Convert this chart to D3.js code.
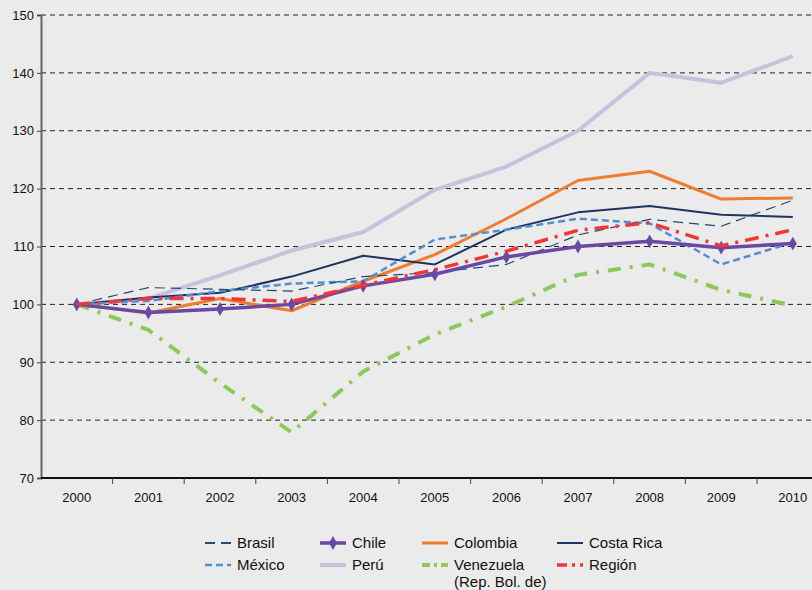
<!DOCTYPE html>
<html>
<head>
<meta charset="utf-8">
<script src="https://cdn.jsdelivr.net/npm/d3@7"></script>
<style>
  html, body { margin: 0; padding: 0; background: #ebebeb; }
  svg { display: block; font-family: "Liberation Sans", Arial, sans-serif; }
</style>
</head>
<body>
<div class="chart"></div>
<script>
// Years on the category axis
const years = ["2000", "2001", "2002", "2003", "2004", "2005", "2006", "2007", "2008", "2009", "2010"];
const yTicks = [70, 80, 90, 100, 110, 120, 130, 140, 150];

// Index values (2000 = 100)
const brasil     = [100, 102.9, 102.6, 102.3, 104.8, 105.5, 106.9, 112.0, 114.7, 113.5, 118.0];
const chile      = [100, 98.6, 99.2, 100.0, 103.2, 105.2, 108.2, 110.0, 110.9, 109.8, 110.5];
const colombia   = [100, 98.5, 101.0, 98.9, 104.0, 108.6, 114.8, 121.4, 123.0, 118.2, 118.4];
const costaRica  = [100, 101.2, 102.0, 104.8, 108.4, 106.9, 112.9, 115.9, 117.0, 115.5, 115.1];
const mexico     = [100, 100.6, 102.3, 103.6, 104.0, 111.2, 112.9, 114.8, 114.0, 106.9, 110.7];
const peru       = [100, 101.0, 105.0, 109.3, 112.5, 119.8, 123.8, 130.0, 140.0, 138.3, 142.9];
const venezuela  = [100, 95.6, 86.4, 77.9, 88.4, 94.8, 99.6, 105.1, 106.9, 102.5, 99.8];
const region     = [100, 101.0, 101.0, 100.5, 103.3, 106.0, 109.2, 112.8, 114.1, 110.1, 112.9];

const series = [
  { name: "Perú", values: peru, color: "#c8c0dd", width: 4, dash: null },
  { name: "Venezuela", values: venezuela, color: "#8cc95a", width: 4, dash: "13,9,3,9" },
  { name: "Colombia", values: colombia, color: "#ee7d2e", width: 3, dash: null },
  { name: "Costa Rica", values: costaRica, color: "#1f3460", width: 2, dash: null },
  { name: "México", values: mexico, color: "#4f8fd2", width: 2.5, dash: "7,4" },
  { name: "Brasil", values: brasil, color: "#1f4b75", width: 1.2, dash: "10,6" },
  { name: "Chile", values: chile, color: "#6a48a3", width: 3.5, dash: null, marker: true },
  { name: "Región", values: region, color: "#f03636", width: 3.5, dash: "14,7,3,7" }
];

const width = 812, height = 590;
const plotLeft = 41, plotTop = 15, plotBottom = 478;
const bandStep = 71.6;

const svg = d3.select(".chart").append("svg")
  .attr("width", width)
  .attr("height", height);

const x = d3.scaleBand()
  .domain(years)
  .range([plotLeft, plotLeft + bandStep * years.length])
  .padding(0);

const y = d3.scaleLinear()
  .domain([70, 150])
  .range([plotBottom, plotTop]);

const cx = d => x(d) + x.bandwidth() / 2;

// Dashed gridlines
svg.append("g")
  .selectAll("line")
  .data(yTicks.filter(t => t > 70))
  .join("line")
  .attr("x1", plotLeft)
  .attr("x2", width)
  .attr("y1", d => y(d))
  .attr("y2", d => y(d))
  .attr("stroke", "#222")
  .attr("stroke-width", 1)
  .attr("stroke-dasharray", "5,4");

// Y axis
const yAxis = svg.append("g")
  .attr("transform", `translate(${plotLeft},0)`)
  .call(d3.axisLeft(y).tickValues(yTicks).tickSize(4).tickPadding(3));
yAxis.select(".domain").attr("stroke", "#666").attr("stroke-width", 2);
yAxis.selectAll(".tick line").attr("stroke", "#444");
yAxis.selectAll("text").attr("font-size", 13).attr("fill", "#111")
  .attr("font-family", "Liberation Sans, Arial, sans-serif");

// X axis (labels at band centres, ticks at band boundaries)
const xAxis = svg.append("g")
  .attr("transform", `translate(0,${plotBottom})`)
  .call(d3.axisBottom(x).tickSize(0).tickPadding(15));
xAxis.select(".domain").remove();
xAxis.selectAll("text").attr("font-size", 13).attr("fill", "#111")
  .attr("font-family", "Liberation Sans, Arial, sans-serif");

svg.append("line")
  .attr("x1", plotLeft).attr("x2", width)
  .attr("y1", plotBottom).attr("y2", plotBottom)
  .attr("stroke", "#111").attr("stroke-width", 2);

svg.append("g")
  .selectAll("line")
  .data(years.slice(1))
  .join("line")
  .attr("x1", d => x(d)).attr("x2", d => x(d))
  .attr("y1", plotBottom).attr("y2", plotBottom + 6)
  .attr("stroke", "#444");

// Lines
const line = d3.line()
  .x((d, i) => cx(years[i]))
  .y(d => y(d));

series.forEach(s => {
  svg.append("path")
    .datum(s.values)
    .attr("d", line)
    .attr("fill", "none")
    .attr("stroke", s.color)
    .attr("stroke-width", s.width)
    .attr("stroke-dasharray", s.dash)
    .attr("stroke-linejoin", "round");

  if (s.marker) {
    svg.append("g")
      .selectAll("path")
      .data(s.values)
      .join("path")
      .attr("transform", (d, i) => `translate(${cx(years[i])},${y(d)})`)
      .attr("d", d3.symbol(d3.symbolDiamond, 55))
      .attr("fill", s.color);
  }
});

// Legend
const legendOrder = [
  { key: "Brasil", col: 0, row: 0 },
  { key: "Chile", col: 1, row: 0 },
  { key: "Colombia", col: 2, row: 0 },
  { key: "Costa Rica", col: 3, row: 0 },
  { key: "México", col: 0, row: 1 },
  { key: "Perú", col: 1, row: 1 },
  { key: "Venezuela", col: 2, row: 1, label: ["Venezuela", "(Rep. Bol. de)"] },
  { key: "Región", col: 3, row: 1 }
];
const colX = [205, 320, 422, 557];
const rowY = [543, 565];

const legend = svg.append("g");
legendOrder.forEach(item => {
  const s = series.find(d => d.name === item.key);
  const gx = colX[item.col], gy = rowY[item.row];
  legend.append("line")
    .attr("x1", gx).attr("x2", gx + 26)
    .attr("y1", gy).attr("y2", gy)
    .attr("stroke", s.color)
    .attr("stroke-width", Math.max(s.width, 2))
    .attr("stroke-dasharray", s.name === "Región" ? "10,5,3,5" : (s.name === "Venezuela" ? "8,4,3,4" : s.dash));
  if (s.marker) {
    legend.append("path")
      .attr("transform", `translate(${gx + 13},${gy})`)
      .attr("d", d3.symbol(d3.symbolDiamond, 55))
      .attr("fill", s.color);
  }
  const lines = item.label || [item.key];
  const t = legend.append("text")
    .attr("x", gx + 32)
    .attr("y", gy + 5)
    .attr("font-size", 15)
    .attr("fill", "#111");
  lines.forEach((l, i) => {
    t.append("tspan").attr("x", gx + 32).attr("dy", i === 0 ? 0 : 17).text(l);
  });
});
</script>
</body>
</html>
